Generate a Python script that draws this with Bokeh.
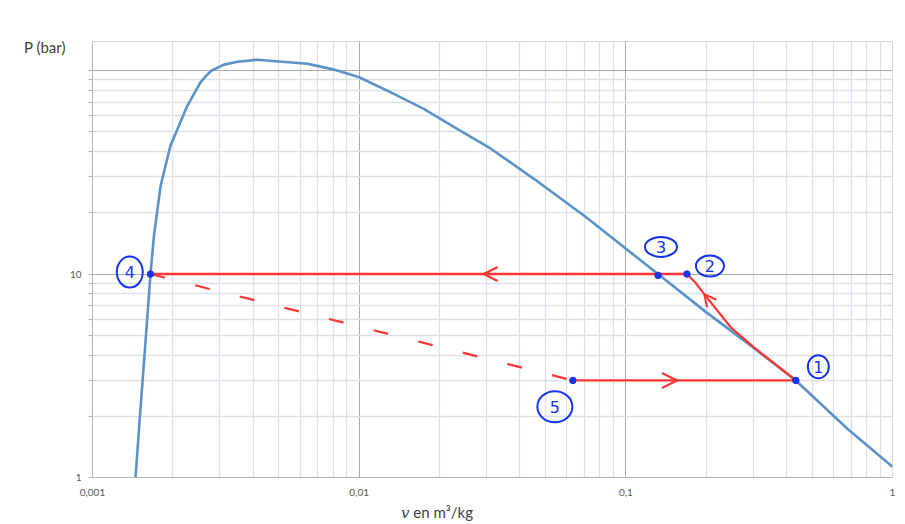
import math
from bokeh.plotting import figure
from bokeh.models import FixedTicker, Arrow, OpenHead, Div
from bokeh.layouts import row, column
from bokeh.embed import file_html
from bokeh.resources import INLINE
from bokeh.core.properties import value

# ---------------- data ----------------
# saturation curve (liquid branch -> top -> vapour branch)
v_sat = [0.00145, 0.001506, 0.001587, 0.00165, 0.00170, 0.00180, 0.00196, 0.00227,
         0.00254, 0.00266, 0.00278, 0.00311, 0.0035, 0.00415, 0.00639, 0.00739, 0.00828,
         0.0100, 0.01315, 0.01753, 0.02339, 0.03119, 0.04533, 0.06982, 0.132,
         0.20, 0.30, 0.434, 0.679, 1.0]
P_sat = [1.0, 2.0, 5.0, 10.0, 15.4, 27.1, 42.7, 67.3,
         87.5, 94.0, 99.5, 107.0, 110.6, 113.0, 108.0, 103.7, 100.0,
         92.7, 78.1, 64.7, 51.6, 41.3, 29.3, 19.35, 10.0,
         6.5, 4.36, 3.0, 1.73, 1.13]

# cycle points 1..5
pt_labels = ["1", "2", "3", "4", "5"]
pt_v = [0.434, 0.1695, 0.132, 0.00165, 0.0633]
pt_P = [3.0, 10.0, 9.85, 10.0, 3.0]

# compression 1 -> 2 (hand drawn curve)
comp_v = [0.434, 0.3022, 0.2478, 0.1968, 0.1832, 0.1695]
comp_P = [3.0, 4.36, 5.46, 7.97, 9.0, 10.0]

# condensation 2 -> 4 (P = 10 bar), evaporation 5 -> 1 (P = 3 bar)
cond_v = [0.1695, 0.00165]
cond_P = [10.0, 10.0]
evap_v = [0.0633, 0.434]
evap_P = [3.0, 3.0]
# expansion 4 -> 5 (dashed)
exp_v = [0.00165, 0.0633]
exp_P = [10.0, 3.0]

# axis ticks
x_ticks = [0.001, 0.01, 0.1, 1.0]
x_tick_labels = ["0,001", "0,01", "0,1", "1"]
y_ticks = [1.0, 10.0, 100.0]
y_tick_labels = ["1", "10", ""]

y_title = "P (bar)"
x_title_sym = "v"
x_title_rest = " en m³/kg"

# ---------------- figure ----------------
X_RANGE = (0.001, 1.0)
Y_RANGE = (1.0, 139.0)
FW, FH = 800, 436

BLUE_CURVE = "#5b93c7"
RED = "#ff3535"
PEN = "#1434f0"
TXT = "#404040"

p = figure(x_axis_type="log", y_axis_type="log", x_range=X_RANGE, y_range=Y_RANGE,
           frame_width=FW, frame_height=FH, min_border_left=26, min_border_top=41,
           min_border_bottom=24, min_border_right=13,
           output_backend="svg", toolbar_location=None,
           background_fill_color="white", border_fill_color="white")
p.outline_line_color = "#d9d9d9"

minor_x = [m * 10.0 ** k for k in range(-3, 0) for m in range(2, 10)]
minor_y = [m * 10.0 ** k for k in range(0, 3) for m in range(2, 10) if m * 10.0 ** k < Y_RANGE[1]]

p.xaxis.ticker = FixedTicker(ticks=x_ticks, minor_ticks=minor_x)
p.yaxis.ticker = FixedTicker(ticks=y_ticks, minor_ticks=minor_y)
p.xaxis.major_label_overrides = {t: s for t, s in zip(x_ticks, x_tick_labels)}
p.yaxis.major_label_overrides = {t: s for t, s in zip(y_ticks, y_tick_labels)}

for ax in (p.xaxis, p.yaxis):
    ax.axis_line_color = "#b4b4b4"
    ax.major_label_text_font = "Lato"
    ax.major_label_text_font_size = "10px"
    ax.major_label_text_color = "#595959"
    ax.major_tick_line_color = "#b4b4b4"
    ax.minor_tick_line_color = "#b4b4b4"
p.xaxis.major_tick_out = 0
p.xaxis.major_tick_in = 0
p.xaxis.minor_tick_out = 0
p.xaxis.minor_tick_in = 0
p.xaxis.major_label_standoff = 11
p.yaxis.major_tick_out = 4
p.yaxis.major_tick_in = 0
p.yaxis.minor_tick_out = 4
p.yaxis.minor_tick_in = 0
p.yaxis.major_label_standoff = 7

for g in (p.xgrid, p.ygrid):
    g.grid_line_color = "#ababab"
    g.grid_line_width = 1
    g.minor_grid_line_color = "#dde1e7"
    g.minor_grid_line_width = 1.3

# saturation curve
p.line(v_sat, P_sat, line_color=BLUE_CURVE, line_width=2.6)

# cycle
p.line(cond_v, cond_P, line_color=RED, line_width=2.6)
p.line(evap_v, evap_P, line_color=RED, line_width=2.2)
p.line(comp_v, comp_P, line_color=RED, line_width=2.2)
p.line(exp_v, exp_P, line_color=RED, line_width=2.2, line_dash="15 31")

# arrows (hand-drawn chevrons)
p.add_layout(Arrow(end=OpenHead(size=14, line_color=RED, line_width=2.4),
                   x_start=0.045, y_start=cond_P[0], x_end=0.0293, y_end=cond_P[0],
                   line_alpha=0))
p.add_layout(Arrow(end=OpenHead(size=15, line_color=RED, line_width=2.2),
                   x_start=0.11, y_start=evap_P[0], x_end=0.1555, y_end=evap_P[0],
                   line_alpha=0))
p.add_layout(Arrow(end=OpenHead(size=12, line_color=RED, line_width=2.0),
                   x_start=comp_v[2], y_start=comp_P[2], x_end=comp_v[3], y_end=comp_P[3],
                   line_alpha=0))

# points
p.scatter(pt_v, pt_P, size=6.5, color=PEN)

# circled hand-written numbers (pixel offsets from each point)
px_dec_x = FW / (math.log10(X_RANGE[1]) - math.log10(X_RANGE[0]))
px_dec_y = FH / (math.log10(Y_RANGE[1]) - math.log10(Y_RANGE[0]))
lab_dx = [22.5, 23, 3, -20.7, -18]
lab_dy = [-13.7, -8, -28.5, -2, 26.3]
ell_w = [21, 28, 32, 26, 35]
ell_h = [23, 21, 20, 31, 31]
lab_v = [v * 10 ** (dx / px_dec_x) for v, dx in zip(pt_v, lab_dx)]
lab_P = [P * 10 ** (-dy / px_dec_y) for P, dy in zip(pt_P, lab_dy)]
p.ellipse(lab_v, lab_P, width=ell_w, height=ell_h, width_units="screen",
          height_units="screen", fill_alpha=0, line_color=PEN, line_width=2)
p.text(lab_v, lab_P, text=pt_labels, text_align="center", text_baseline="middle",
       text_font=value("DejaVu Sans"), text_font_size="16px", text_color=PEN)

# axis titles as HTML beside / below the figure (kept as real text)
left_div = Div(
    text=('<div style="margin:39px 0 0 24px; font-family:Lato; font-size:15px; '
          'line-height:17px; color:%s; white-space:nowrap">%s</div>' % (TXT, y_title)),
    width=66, height=501, margin=(0, 0, 0, 0))
bottom_div = Div(
    text=('<div style="margin:0 0 0 401px; font-family:Lato; font-size:15px; '
          'line-height:22px; color:%s; white-space:nowrap">'
          '<i style="font-family:\'DejaVu Serif\'">%s</i>%s</div>'
          % (TXT, x_title_sym, x_title_rest)),
    width=905, height=23, margin=(0, 0, 0, 0))

layout = column(row(left_div, p, spacing=0), bottom_div, spacing=0)

open("out.html", "w").write(file_html(layout, INLINE))
